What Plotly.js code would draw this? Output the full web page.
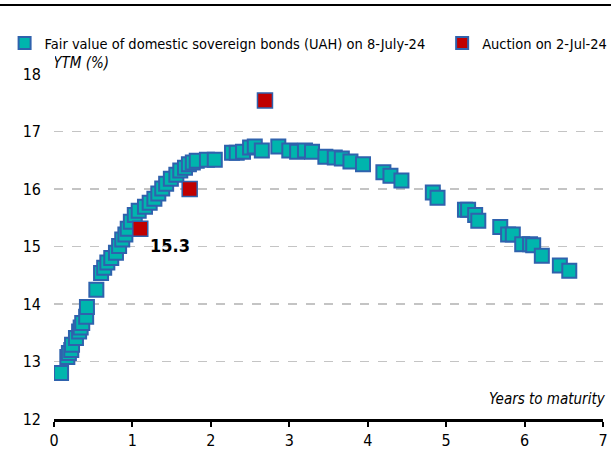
<!DOCTYPE html>
<html>
<head>
<meta charset="utf-8">
<script src="https://cdn.plot.ly/plotly-3.0.1.min.js"></script>
<style>html,body{margin:0;padding:0;background:#fff;}#chart{width:611px;height:451px;}</style>
</head>
<body>
<div id="chart"></div>
<script>
// Fair value curve: years to maturity and YTM (%)
const fairYears = [0.09,0.17,0.19,0.22,0.23,0.28,0.32,0.34,0.36,0.41,0.42,0.54,0.60,0.64,0.68,0.73,0.79,
  0.83,0.87,0.91,0.94,0.98,1.03,1.08,1.16,1.22,1.28,1.33,1.38,1.43,1.49,1.56,1.61,1.67,1.72,1.77,1.82,
  1.95,2.05,2.27,2.33,2.41,2.50,2.56,2.65,2.86,3.00,3.10,3.20,3.29,3.46,3.58,3.67,3.78,3.94,
  4.20,4.29,4.43,4.83,4.89,5.24,5.28,5.37,5.41,5.69,5.79,5.85,5.97,6.07,6.11,6.22,6.45,6.57];
const fairYTM = [12.80,13.08,13.15,13.20,13.29,13.41,13.52,13.59,13.67,13.78,13.95,14.25,14.54,14.63,14.72,14.80,14.89,
  15.01,15.12,15.21,15.31,15.43,15.55,15.62,15.69,15.76,15.83,15.92,16.01,16.09,16.18,16.25,16.32,16.37,16.43,16.46,16.49,
  16.51,16.51,16.63,16.63,16.65,16.72,16.74,16.67,16.74,16.67,16.65,16.67,16.65,16.56,16.55,16.53,16.48,16.43,
  16.29,16.23,16.15,15.94,15.85,15.64,15.64,15.55,15.45,15.34,15.21,15.21,15.04,15.04,15.02,14.84,14.67,14.58];
// Auction results
const auctionYears = [1.10, 1.73, 2.69];
const auctionYTM = [15.31, 16.00, 17.54];
const labelValue = 15.3;
const xTicks = [0,1,2,3,4,5,6,7];
const yTicks = [12,13,14,15,16,17,18];

const FONT = '"Liberation Sans Narrow", "DejaVu Sans Condensed", Arial, sans-serif';

const traces = [
  {x: fairYears, y: fairYTM, type: 'scatter', mode: 'markers', legend: 'legend',
   name: 'Fair value of domestic sovereign bonds (UAH) on 8-July-24',
   marker: {symbol: 'square', size: 14, color: '#00b5ad', line: {color: '#2f62ad', width: 2}}},
  {x: auctionYears, y: auctionYTM, type: 'scatter', mode: 'markers', legend: 'legend2',
   name: 'Auction on 2-Jul-24',
   marker: {symbol: 'square', size: 15, color: '#c00000', line: {color: '#2f62ad', width: 1.5}}}
];

const legendCommon = {orientation: 'h', yanchor: 'middle', y: 1.09, xanchor: 'left',
  font: {family: FONT, size: 14.5, color: '#000'}, itemwidth: 30, itemsizing: 'constant',
  bgcolor: 'rgba(0,0,0,0)', borderwidth: 0};

const layout = {
  width: 611, height: 451,
  margin: {l: 54, r: 8, t: 74, b: 32, autoexpand: false},
  paper_bgcolor: '#fff', plot_bgcolor: '#fff',
  font: {family: FONT, size: 16, color: '#000'},
  showlegend: true,
  legend: Object.assign({}, legendCommon, {x: -0.09}),
  legend2: Object.assign({}, legendCommon, {x: 0.707}),
  xaxis: {range: [0, 7], tickvals: xTicks, showgrid: false, zeroline: false,
          showline: true, linecolor: '#000', linewidth: 3,
          ticks: 'outside', ticklen: 5, tickwidth: 2, tickcolor: '#000',
          tickfont: {family: FONT, size: 16}, fixedrange: true, automargin: false},
  yaxis: {range: [12, 18], tickvals: yTicks, showgrid: true, gridcolor: '#c4c4c4', griddash: 'dash', gridwidth: 1.5,
          zeroline: false, showline: false, ticks: '', ticklabelstandoff: 12,
          tickfont: {family: FONT, size: 16}, fixedrange: true, automargin: false},
  annotations: [
    {x: auctionYears[0], y: labelValue, xref: 'x', yref: 'y', text: '<b>' + labelValue.toFixed(1) + '</b>',
     showarrow: false, xanchor: 'left', yanchor: 'middle', xshift: 8, yshift: -16,
     font: {family: FONT, size: 18, color: '#000'}},
    {x: 0, y: 1.032, xref: 'paper', yref: 'paper', text: '<i>YTM (%)</i>', showarrow: false,
     xanchor: 'left', yanchor: 'middle', width: 54, height: 26, align: 'right', borderpad: 0,
     bgcolor: '#ffffff', font: {family: FONT, size: 15}},
    {x: 1.009, y: 0.058, xref: 'paper', yref: 'paper', text: '<i>Years to maturity</i>', showarrow: false,
     xanchor: 'right', yanchor: 'middle', font: {family: FONT, size: 15}}
  ],
  shapes: [
    {type: 'line', xref: 'paper', yref: 'paper', x0: -0.1, x1: 1.02, y0: 1.2, y1: 1.2,
     line: {color: '#000', width: 2}}
  ]
};

Plotly.newPlot('chart', traces, layout, {staticPlot: true, displayModeBar: false});
</script>
</body>
</html>
